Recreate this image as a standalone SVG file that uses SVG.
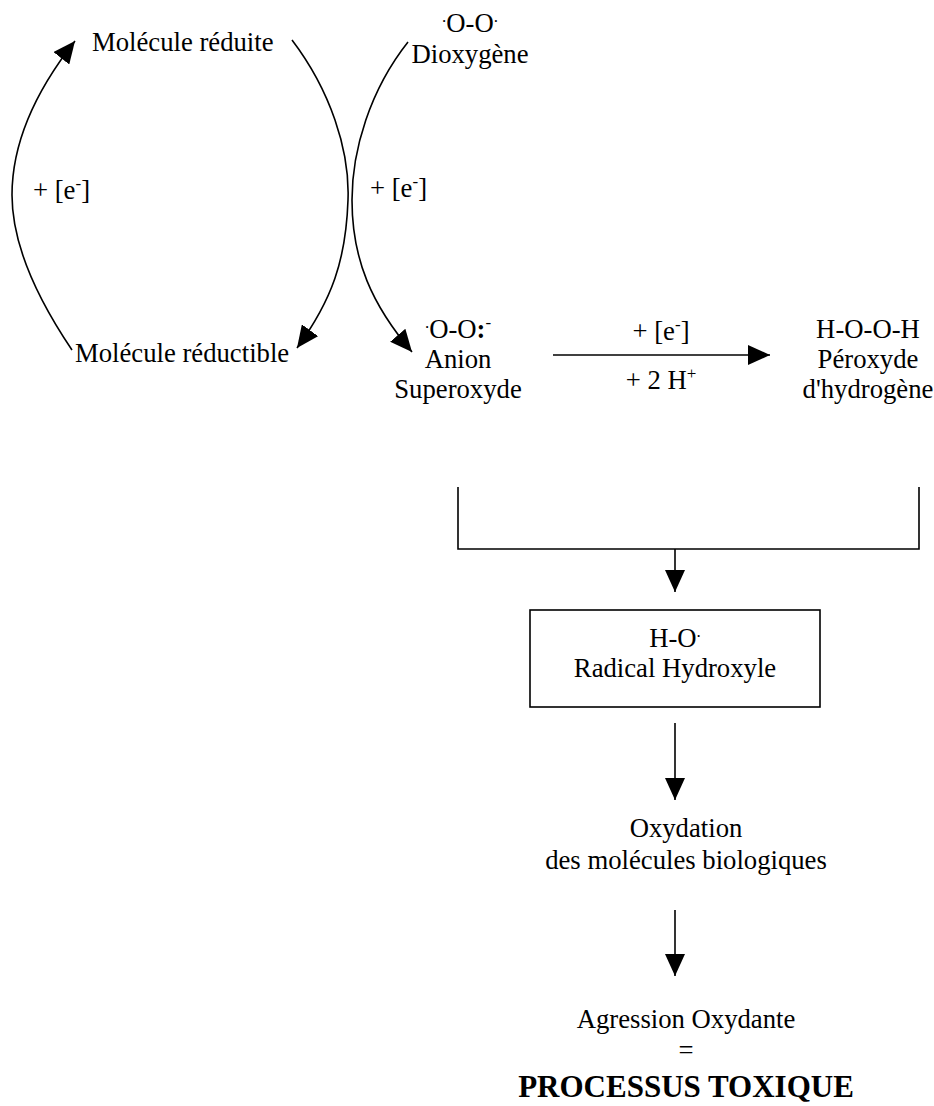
<svg xmlns="http://www.w3.org/2000/svg" width="934" height="1106" viewBox="0 0 934 1106">
  <style>
    text { font-family: "Liberation Serif", "Times New Roman", serif; font-size: 26.7px; fill: #000; }
    .c { text-anchor: middle; }
    .sup { font-size: 17px; }
    .big { font-size: 31px; font-weight: bold; }
    .ln { fill: none; stroke: #000; stroke-width: 1.6; }
  </style>
  <defs>
    <marker id="arrow" markerUnits="userSpaceOnUse" markerWidth="22" markerHeight="20" refX="22" refY="10" orient="auto" viewBox="0 0 22 20">
      <path d="M0,0 L22,10 L0,20 z" fill="#000"/>
    </marker>
  </defs>

  <!-- connectors -->
  <g id="connectors">
    <!-- reduction cycle of the carrier molecule -->
    <path class="ln" d="M72,350 C45,310 12,250 12,195 C12,140 38,88 75,41" marker-end="url(#arrow)"/>
    <path class="ln" d="M292,40 C330,90 350,150 348,200 C346,260 332,300 297,348" marker-end="url(#arrow)"/>
    <!-- O2 reduced to superoxide -->
    <path class="ln" d="M408,42 C370,90 352,150 352,200 C352,260 372,305 412,352" marker-end="url(#arrow)"/>
    <!-- superoxide to hydrogen peroxide -->
    <path class="ln" d="M553,355 L770,355" marker-end="url(#arrow)"/>
    <!-- bracket joining both species -->
    <path class="ln" d="M458,487 L458,549 L919,549 L919,487"/>
    <path class="ln" d="M675,549 L675,592" marker-end="url(#arrow)"/>
    <path class="ln" d="M675,723 L675,800" marker-end="url(#arrow)"/>
    <path class="ln" d="M675,910 L675,976" marker-end="url(#arrow)"/>
  </g>

  <g id="molecule-reduite">
    <text x="92" y="51">Molécule réduite</text>
  </g>
  <g id="molecule-reductible">
    <text x="75" y="362">Molécule réductible</text>
  </g>
  <g id="label-e-left">
    <text x="33" y="199">+ [e<tspan class="sup" dy="-10">-</tspan><tspan dy="10">]</tspan></text>
  </g>
  <g id="dioxygene">
    <text class="c" x="470" y="32"><tspan class="sup" dy="-10">.</tspan><tspan dy="10">O-O</tspan><tspan class="sup" dy="-10">.</tspan></text>
    <text class="c" x="470" y="63">Dioxygène</text>
  </g>
  <g id="label-e-mid">
    <text x="370" y="197">+ [e<tspan class="sup" dy="-10">-</tspan><tspan dy="10">]</tspan></text>
  </g>
  <g id="superoxyde">
    <text class="c" x="458" y="338"><tspan class="sup" dy="-10">.</tspan><tspan dy="10">O-O</tspan><tspan font-weight="bold">:</tspan><tspan class="sup" dy="-10">-</tspan></text>
    <text class="c" x="458" y="368">Anion</text>
    <text class="c" x="458" y="398">Superoxyde</text>
  </g>
  <g id="label-reaction">
    <text class="c" x="661" y="340">+ [e<tspan class="sup" dy="-10">-</tspan><tspan dy="10">]</tspan></text>
    <text class="c" x="661" y="389">+ 2 H<tspan class="sup" dy="-10">+</tspan></text>
  </g>
  <g id="peroxyde">
    <text class="c" x="868" y="338">H-O-O-H</text>
    <text class="c" x="868" y="368">Péroxyde</text>
    <text class="c" x="868" y="398">d'hydrogène</text>
  </g>
  <g id="radical-hydroxyle">
    <rect class="ln" x="530" y="610" width="290" height="97"/>
    <text class="c" x="675" y="647">H-O<tspan class="sup" dy="-10">.</tspan></text>
    <text class="c" x="675" y="677">Radical Hydroxyle</text>
  </g>
  <g id="oxydation">
    <text class="c" x="686" y="837">Oxydation</text>
    <text class="c" x="686" y="869">des molécules biologiques</text>
  </g>
  <g id="agression">
    <text class="c" x="686" y="1028">Agression Oxydante</text>
    <text class="c" x="686" y="1059">=</text>
    <text class="c big" x="686" y="1097">PROCESSUS TOXIQUE</text>
  </g>
</svg>
